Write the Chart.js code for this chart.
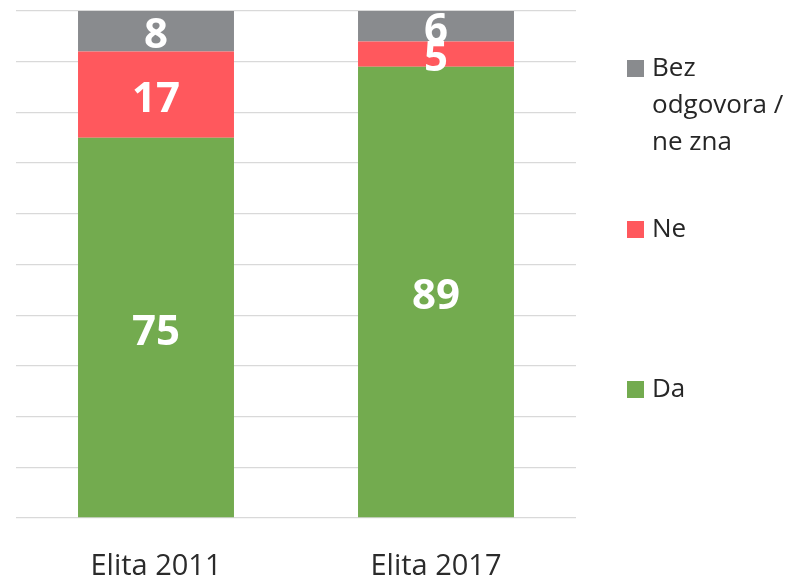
<!DOCTYPE html>
<html>
<head>
<meta charset="utf-8">
<script src="https://cdn.jsdelivr.net/npm/chart.js@4/dist/chart.umd.min.js"></script>
<style>
  html, body { margin: 0; padding: 0; background: #ffffff; }
  #wrap { position: relative; width: 792px; height: 578px; }
  #c { position: absolute; left: 0; top: 0; }
  .lg { position: absolute; left: 627px; font-family: "Open Sans", sans-serif; font-size: 26px; line-height: 37px; color: #262626; }
  .lg .sw { position: absolute; left: 0; width: 17px; height: 17px; }
  .lg .tx { position: absolute; left: 25px; white-space: nowrap; }
</style>
</head>
<body>
<div id="wrap">
  <canvas id="c" width="792" height="578"></canvas>
</div>
<script>
const categories = ["Elita 2011", "Elita 2017"];
const seriesNames = ["Da", "Ne", "Bez odgovora / ne zna"];
const legendLines = [["Da"], ["Ne"], ["Bez", "odgovora /", "ne zna"]];
const daValues = [75, 89];
const neValues = [17, 5];
const bezValues = [8, 6];
const seriesColors = ["#73AB4F", "#FF585D", "#898B8E"];

const valueLabels = {
  id: "valueLabels",
  afterDatasetsDraw(chart) {
    const ctx = chart.ctx;
    ctx.save();
    const fs = 42;
    ctx.font = "bold " + fs + "px 'Open Sans', sans-serif";
    ctx.fillStyle = "#ffffff";
    ctx.textAlign = "center";
    ctx.textBaseline = "alphabetic";
    chart.data.datasets.forEach((ds, di) => {
      const meta = chart.getDatasetMeta(di);
      meta.data.forEach((el, i) => {
        const p = el.getProps(["x", "y", "base"], true);
        const cy = (p.y + p.base) / 2;
        ctx.fillText(String(ds.data[i]), p.x, cy + 0.357 * fs + 2);
      });
    });
    ctx.restore();
  }
};

const chart = new Chart(document.getElementById("c"), {
  type: "bar",
  data: {
    labels: categories,
    datasets: [
      { label: seriesNames[0], data: daValues, backgroundColor: seriesColors[0] },
      { label: seriesNames[1], data: neValues, backgroundColor: seriesColors[1] },
      { label: seriesNames[2], data: bezValues, backgroundColor: seriesColors[2] }
    ]
  },
  options: {
    responsive: false,
    animation: false,
    devicePixelRatio: 1,
    layout: { padding: { left: 16, right: 216, top: 11, bottom: 0 } },
    datasets: { bar: { categoryPercentage: 1, barPercentage: 0.557, borderWidth: 0 } },
    plugins: { legend: { display: false }, tooltip: { enabled: false } },
    scales: {
      x: {
        stacked: true,
        border: { display: false },
        grid: { display: false, drawTicks: false },
        ticks: { color: "#2b2b2b", padding: 31, font: { family: "'Open Sans', sans-serif", size: 29 } },
        afterFit(s) { s.height = 60; }
      },
      y: {
        stacked: true,
        min: 0, max: 100,
        border: { display: false },
        grid: { color: "#d9d9d9", lineWidth: 1.3, drawTicks: false },
        ticks: { display: false, stepSize: 10 },
        afterFit(s) { s.width = 0; }
      }
    }
  },
  plugins: [valueLabels]
});

// HTML legend (reverse order: top series first)
const legendTops = [369, 209, 48];
const wrap = document.getElementById("wrap");
for (let k = 2; k >= 0; k--) {
  const item = document.createElement("div");
  item.className = "lg";
  item.style.top = legendTops[k] + "px";
  const sw = document.createElement("div");
  sw.className = "sw";
  sw.style.background = seriesColors[k];
  sw.style.top = "12px";
  const tx = document.createElement("div");
  tx.className = "tx";
  tx.innerHTML = legendLines[k].map(s => s.replace(/&/g, "&amp;")).join("<br>");
  item.appendChild(sw);
  item.appendChild(tx);
  wrap.appendChild(item);
}
</script>
</body>
</html>
